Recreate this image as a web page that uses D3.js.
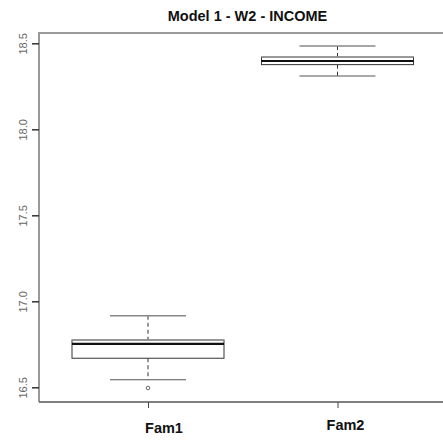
<!DOCTYPE html>
<html><head><meta charset="utf-8">
<script src="https://cdn.jsdelivr.net/npm/d3@7"></script>
<style>body{margin:0;background:#fff}svg{display:block}</style>
</head><body>
<script>
const categories = ["Fam1", "Fam2"];
const lowerWhisker = [16.544, 18.31];
const q1 = [16.669, 18.376];
const median = [16.752, 18.397];
const q3 = [16.775, 18.42];
const upperWhisker = [16.916, 18.484];
const outliers = [[16.496], []];
const yTicks = [16.5, 17.0, 17.5, 18.0, 18.5];
const title = "Model 1 - W2 - INCOME";

const W = 443, H = 445;
const svg = d3.select("body").append("svg").attr("width", W).attr("height", H);

const y = d3.scaleLinear().domain([16.5, 18.5]).range([387.3, 43.3]);
const x = d3.scalePoint().domain(categories).range([148, 337.5]);
const boxW = 152, capW = 76;
const plotTop = 33, plotBottom = 402, plotLeft = 39;

// frame
svg.append("line").attr("x1", plotLeft).attr("x2", W).attr("y1", plotTop).attr("y2", plotTop)
  .attr("stroke", "#9a9a9a").attr("stroke-width", 2);
svg.append("line").attr("x1", plotLeft).attr("x2", plotLeft).attr("y1", plotTop - 1).attr("y2", plotBottom)
  .attr("stroke", "#9a9a9a").attr("stroke-width", 2);
svg.append("line").attr("x1", plotLeft).attr("x2", W).attr("y1", plotBottom).attr("y2", plotBottom)
  .attr("stroke", "#555", ).attr("stroke-width", 1.5);

// y axis
const yAxis = svg.append("g").attr("transform", `translate(${plotLeft},0)`)
  .call(d3.axisLeft(y).tickValues(yTicks).tickSize(7).tickFormat(d3.format(".1f")));
yAxis.select(".domain").remove();
yAxis.selectAll(".tick line").attr("stroke", "#333").attr("stroke-width", 1.5);
yAxis.selectAll(".tick text")
  .attr("transform", "rotate(-90)")
  .attr("x", 0).attr("y", -12).attr("dy", 0)
  .attr("text-anchor", "middle")
  .attr("font-family", "Liberation Sans, Arial, sans-serif")
  .attr("font-size", 11).attr("fill", "#666");

// x axis
const xAxis = svg.append("g").attr("transform", `translate(0,${plotBottom})`)
  .call(d3.axisBottom(x).tickSize(6).tickFormat(""));
xAxis.select(".domain").remove();
xAxis.selectAll(".tick line").attr("stroke", "#444").attr("stroke-width", 1);
const labelY = [433, 430];
const labelShift = [16, 8];
svg.selectAll("text.xl").data(categories).join("text").attr("class", "xl")
  .attr("x", (d, i) => x(d) + labelShift[i]).attr("y", (d, i) => labelY[i])
  .attr("text-anchor", "middle")
  .attr("font-family", "Liberation Sans, Arial, sans-serif")
  .attr("font-weight", "bold").attr("font-size", 14.5).attr("fill", "#111")
  .text(d => d);

// title
svg.append("text").attr("x", 247.5).attr("y", 20.5).attr("text-anchor", "middle")
  .attr("font-family", "Liberation Sans, Arial, sans-serif")
  .attr("font-weight", "bold").attr("font-size", 14.5).attr("fill", "#111")
  .text(title);

// boxes
const g = svg.selectAll("g.box").data(categories).join("g").attr("class", "box");
g.each(function(d, i) {
  const s = d3.select(this), cx = x(d);
  s.append("line").attr("x1", cx).attr("x2", cx).attr("y1", y(upperWhisker[i])).attr("y2", y(q3[i]))
    .attr("stroke", "#333").attr("stroke-dasharray", "4,3");
  s.append("line").attr("x1", cx).attr("x2", cx).attr("y1", y(q1[i])).attr("y2", y(lowerWhisker[i]))
    .attr("stroke", "#333").attr("stroke-dasharray", "4,3");
  s.append("line").attr("x1", cx - capW / 2).attr("x2", cx + capW / 2)
    .attr("y1", y(upperWhisker[i])).attr("y2", y(upperWhisker[i]))
    .attr("stroke", "#888").attr("stroke-width", 1.5);
  s.append("line").attr("x1", cx - capW / 2).attr("x2", cx + capW / 2)
    .attr("y1", y(lowerWhisker[i])).attr("y2", y(lowerWhisker[i]))
    .attr("stroke", "#555").attr("stroke-width", 1.2);
  s.append("rect").attr("x", cx - boxW / 2).attr("width", boxW)
    .attr("y", y(q3[i])).attr("height", y(q1[i]) - y(q3[i]))
    .attr("fill", "#fff").attr("stroke", "#333").attr("stroke-width", 1);
  s.append("line").attr("x1", cx - boxW / 2).attr("x2", cx + boxW / 2)
    .attr("y1", y(q3[i])).attr("y2", y(q3[i]))
    .attr("stroke", "#999").attr("stroke-width", 1.5);
  s.append("line").attr("x1", cx - boxW / 2).attr("x2", cx + boxW / 2)
    .attr("y1", y(median[i])).attr("y2", y(median[i]))
    .attr("stroke", "#111").attr("stroke-width", 2.2);
  s.selectAll("circle").data(outliers[i]).join("circle")
    .attr("cx", cx).attr("cy", v => y(v)).attr("r", 1.8)
    .attr("fill", "none").attr("stroke", "#444").attr("stroke-width", 0.8);
});
</script>
</body></html>
